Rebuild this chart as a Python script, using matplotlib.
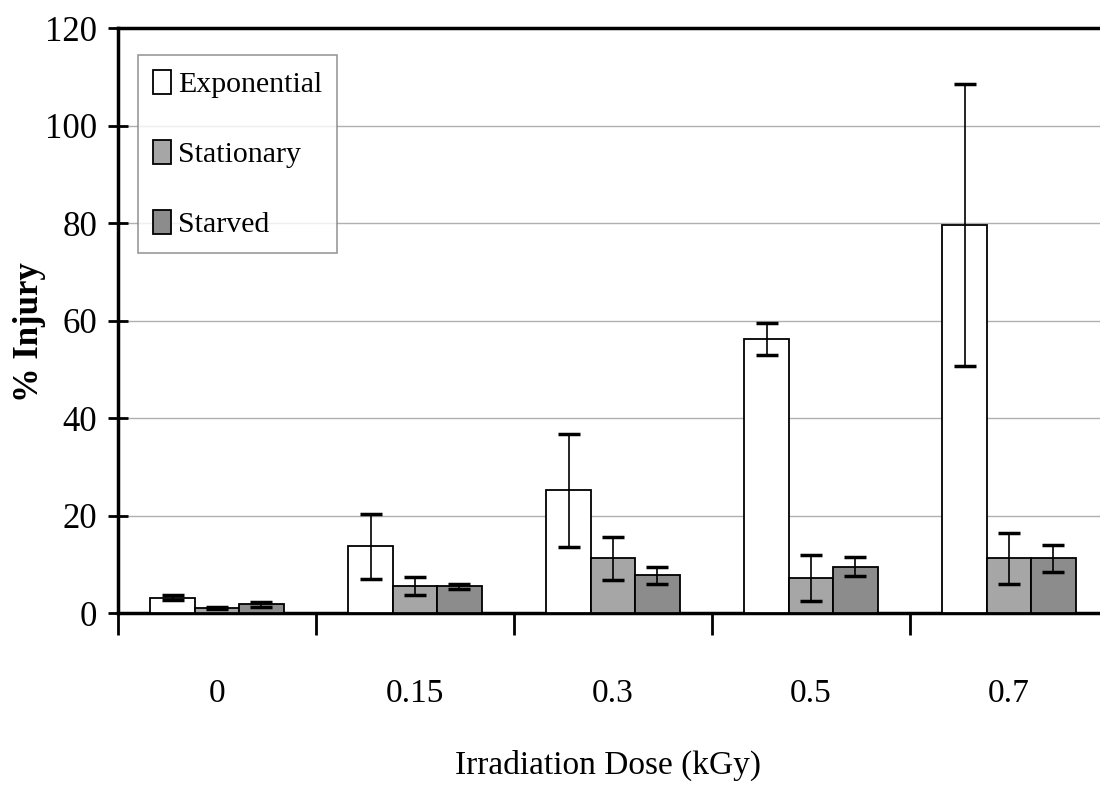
import matplotlib
matplotlib.use("Agg")
import matplotlib.pyplot as plt
import numpy as np

doses = ["0", "0.15", "0.3", "0.5", "0.7"]
series_names = ["Exponential", "Stationary", "Starved"]
exponential = [3.1, 13.7, 25.2, 56.2, 79.6]
exponential_err = [0.5, 6.7, 11.6, 3.2, 29.0]
stationary = [1.0, 5.5, 11.2, 7.1, 11.2]
stationary_err = [0.2, 1.8, 4.4, 4.7, 5.3]
starved = [1.8, 5.5, 7.7, 9.5, 11.2]
starved_err = [0.5, 0.5, 1.7, 2.0, 2.7]
y_ticks = [0, 20, 40, 60, 80, 100, 120]

colors = ["#ffffff", "#a6a6a6", "#8c8c8c"]
font = "Liberation Serif"

fig = plt.figure(figsize=(11, 7.9), dpi=100)
ax = fig.add_axes([118/1100, 1-613/790, 990/1100, (613-28)/790])

x = np.arange(len(doses))
w = 0.224
data = [exponential, stationary, starved]
errs = [exponential_err, stationary_err, starved_err]
handles = []
for i, (vals, er, c, name) in enumerate(zip(data, errs, colors, series_names)):
    pos = x + (i - 1) * w
    b = ax.bar(pos, vals, width=w, color=c, edgecolor="black", linewidth=1.3,
               label=name, zorder=3)
    ax.errorbar(pos, vals, yerr=er, fmt="none", ecolor="black", elinewidth=1.2,
                capsize=8, capthick=2.5, zorder=4)
    handles.append(b)

ax.set_xlim(-0.5, len(doses) - 0.5)
ax.set_ylim(0, 120)
ax.set_yticks(y_ticks)
ax.set_yticklabels([str(v) for v in y_ticks], fontfamily=font, fontsize=25)
ax.yaxis.grid(True, color="#b0b0b0", linewidth=1.0, zorder=0)
ax.set_axisbelow(True)

ax.set_xticks(np.arange(-0.5, len(doses), 1.0))
ax.set_xticklabels([])
ax.set_xticks(x, minor=True)
ax.set_xticklabels(doses, minor=True, fontfamily=font, fontsize=24)
ax.tick_params(axis="x", which="minor", length=0, pad=47)
ax.tick_params(axis="x", which="major", direction="out", length=16, width=2)
ax.tick_params(axis="y", which="major", direction="inout", length=14, width=2, pad=8)

for s in ["left", "bottom", "top"]:
    ax.spines[s].set_linewidth(2.5)
ax.spines["right"].set_visible(False)

fig.text(30/1100, 1-332/790, "% Injury", rotation=90, ha="center", va="center",
         fontfamily=font, fontsize=25, fontweight="bold")
fig.text(608/1100, 1-765/790, "Irradiation Dose (kGy)", ha="center", va="center",
         fontfamily=font, fontsize=24)

leg = ax.legend(handles=handles, loc="upper left",
                bbox_to_anchor=(138/1100, 1-55/790), bbox_transform=fig.transFigure,
                prop={"family": font, "size": 21.5}, frameon=True, fancybox=False,
                handlelength=0.6, handleheight=0.85, handletextpad=0.25,
                labelspacing=1.4, borderpad=0.5, borderaxespad=0)
leg.get_frame().set_edgecolor("#808080")
leg.get_frame().set_linewidth(1.2)

fig.savefig("out.png", dpi=100)
